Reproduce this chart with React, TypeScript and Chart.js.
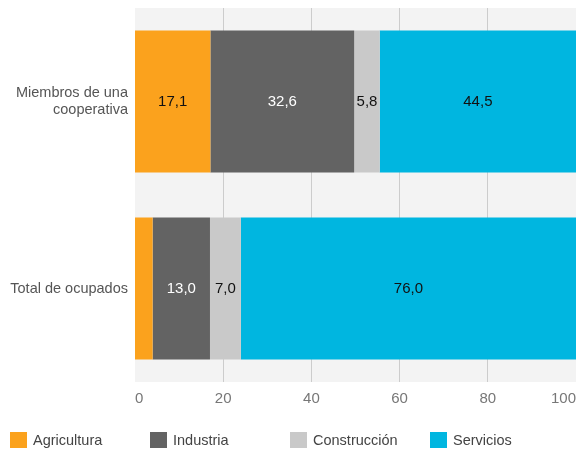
import React, { useEffect, useRef } from "react";
import { Chart, registerables } from "chart.js";

Chart.register(...registerables);

const categories: (string | string[])[] = [["Miembros de una", "cooperativa"], "Total de ocupados"];
const seriesNames = ["Agricultura", "Industria", "Construcción", "Servicios"];
const agricultura = [17.1, 4.0];
const industria = [32.6, 13.0];
const construccion = [5.8, 7.0];
const servicios = [44.5, 76.0];
const seriesColors = ["#FBA21D", "#636363", "#C9C9C9", "#00B6E0"];
const labelColors = ["#111111", "#FFFFFF", "#111111", "#111111"];
const xTicks = [0, 20, 40, 60, 80, 100];

const FONT = "'Liberation Sans', Arial, sans-serif";

const bgPlugin = {
  id: "plotBg",
  beforeDraw(chart: any) {
    const { ctx, chartArea } = chart;
    ctx.save();
    ctx.fillStyle = "#F3F3F3";
    ctx.fillRect(chartArea.left, chartArea.top, chartArea.right - chartArea.left, chartArea.bottom - chartArea.top);
    ctx.restore();
  },
};

const valueLabels = {
  id: "valueLabels",
  afterDatasetsDraw(chart: any) {
    const { ctx } = chart;
    ctx.save();
    ctx.font = `15px ${FONT}`;
    ctx.textAlign = "center";
    ctx.textBaseline = "middle";
    chart.data.datasets.forEach((ds: any, di: number) => {
      const meta = chart.getDatasetMeta(di);
      meta.data.forEach((bar: any, i: number) => {
        const v = ds.data[i];
        if (v < 5) return;
        const cx = (bar.x + bar.base) / 2;
        ctx.fillStyle = labelColors[di];
        ctx.fillText(v.toFixed(1).replace(".", ","), cx, bar.y);
      });
    });
    ctx.restore();
  },
};

const customLegend = {
  id: "customLegend",
  afterDraw(chart: any) {
    const { ctx } = chart;
    ctx.save();
    ctx.font = `14.5px ${FONT}`;
    ctx.textBaseline = "middle";
    ctx.textAlign = "left";
    const y = 440;
    seriesNames.forEach((name, i) => {
      const x = 10 + i * 140;
      ctx.fillStyle = seriesColors[i];
      ctx.fillRect(x, y - 8, 17, 16);
      ctx.fillStyle = "#444444";
      ctx.fillText(name, x + 23, y + 1);
    });
    ctx.restore();
  },
};

export default function App() {
  const ref = useRef<HTMLCanvasElement>(null);
  useEffect(() => {
    document.body.style.margin = "0";
    const values = [agricultura, industria, construccion, servicios];
    const chart = new Chart(ref.current!, {
      type: "bar",
      data: {
        labels: categories,
        datasets: seriesNames.map((n, i) => ({
          label: n,
          data: values[i],
          backgroundColor: seriesColors[i],
          borderWidth: 0,
          barPercentage: 0.76,
          categoryPercentage: 1,
        })),
      },
      options: {
        indexAxis: "y",
        animation: false,
        responsive: false,
        maintainAspectRatio: false,
        layout: { padding: { top: 8, right: 0, left: 0, bottom: 34 } },
        plugins: { legend: { display: false }, tooltip: { enabled: false } },
        scales: {
          x: {
            stacked: true,
            min: 0,
            max: 100,
            afterBuildTicks: (axis: any) => {
              axis.ticks = xTicks.map((v) => ({ value: v }));
            },
            afterFit: (axis: any) => {
              axis.paddingLeft = 0;
              axis.paddingRight = 0;
            },
            grid: { color: "#CCCCCC", drawTicks: false, lineWidth: (c: any) => (c.tick && c.tick.value === 0 ? 0 : 1) },
            border: { display: false },
            ticks: {
              align: "inner",
              padding: 8,
              color: "#777777",
              font: { family: FONT, size: 15 },
            },
          },
          y: {
            stacked: true,
            afterFit: (axis: any) => {
              axis.width = 135;
              axis.paddingTop = 0;
              axis.paddingBottom = 0;
            },
            grid: { display: false, drawTicks: false },
            border: { display: false },
            ticks: {
              padding: 7,
              color: "#555555",
              font: { family: FONT, size: 14.5 },
            },
          },
        },
      },
      plugins: [bgPlugin, valueLabels, customLegend],
    } as any);
    return () => chart.destroy();
  }, []);
  return (
    <div style={{ width: 576, height: 450 }}>
      <canvas ref={ref} width={576} height={450} style={{ display: "block" }} />
    </div>
  );
}
